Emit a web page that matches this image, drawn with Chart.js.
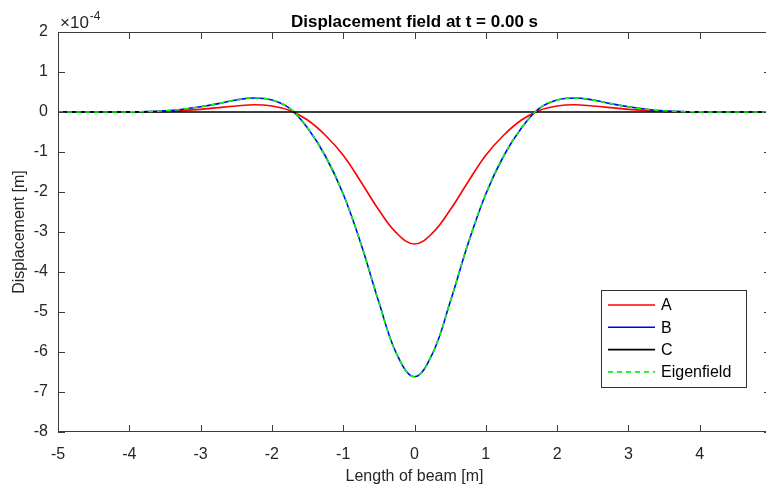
<!DOCTYPE html>
<html>
<head>
<meta charset="utf-8">
<script src="https://cdn.jsdelivr.net/npm/chart.js@4/dist/chart.umd.min.js"></script>
<style>
  html, body { margin: 0; padding: 0; background: #fff; overflow: hidden; }
  #wrap { width: 800px; height: 487px; }
</style>
</head>
<body>
<div id="wrap"><canvas id="c" width="800" height="487"></canvas></div>
<script>
// Beam positions [m]
const positions = [-5, -4.75, -4.5, -4.25, -4, -3.75, -3.5, -3.25, -3, -2.75, -2.5, -2.25, -2, -1.75, -1.5, -1.25, -1, -0.75, -0.5, -0.25,
  0, 0.25, 0.5, 0.75, 1, 1.25, 1.5, 1.75, 2, 2.25, 2.5, 2.75, 3, 3.25, 3.5, 3.75, 4, 4.25, 4.5, 4.75, 5];

// Displacements in units of 1e-4 m
const dispA = [0, 0, 0, 0, 0.001, 0.005, 0.015, 0.035, 0.065, 0.11, 0.15, 0.18, 0.15, 0.04, -0.2, -0.58, -1.08, -1.75, -2.45, -3.03,
  -3.3, -3.03, -2.45, -1.75, -1.08, -0.58, -0.2, 0.04, 0.15, 0.18, 0.15, 0.11, 0.065, 0.035, 0.015, 0.005, 0.001, 0, 0, 0, 0];
const dispB = [0, 0, 0, 0, 0.002, 0.01, 0.03, 0.07, 0.13, 0.21, 0.3, 0.35, 0.3, 0.09, -0.4, -1.1, -2.05, -3.3, -4.75, -6.05,
  -6.62, -6.05, -4.75, -3.3, -2.05, -1.1, -0.4, 0.09, 0.3, 0.35, 0.3, 0.21, 0.13, 0.07, 0.03, 0.01, 0.002, 0, 0, 0, 0];
const dispC = [0, 0, 0, 0, 0, 0, 0, 0, 0, 0, 0, 0, 0, 0, 0, 0, 0, 0, 0, 0,
  0, 0, 0, 0, 0, 0, 0, 0, 0, 0, 0, 0, 0, 0, 0, 0, 0, 0, 0, 0, 0];
const dispEigen = [0, 0, 0, 0, 0.002, 0.01, 0.03, 0.07, 0.13, 0.21, 0.3, 0.35, 0.3, 0.09, -0.4, -1.1, -2.05, -3.3, -4.75, -6.05,
  -6.62, -6.05, -4.75, -3.3, -2.05, -1.1, -0.4, 0.09, 0.3, 0.35, 0.3, 0.21, 0.13, 0.07, 0.03, 0.01, 0.002, 0, 0, 0, 0];

const xTicks = [-5, -4, -3, -2, -1, 0, 1, 2, 3, 4, 5];
const yTicks = [2, 1, 0, -1, -2, -3, -4, -5, -6, -7, -8];

const FONT = '"Liberation Sans", Arial, Helvetica, sans-serif';
const AXIS_COLOR = '#3c3c3c';
const TEXT_COLOR = '#262626';

const pts = arr => positions.map((x, i) => ({ x: x, y: arr[i] }));

// Inward tick marks, box outline, title, exponent label and legend
const matlabAxes = {
  id: 'matlabAxes',
  afterDatasetsDraw(chart) {
    const { ctx, chartArea: a, scales } = chart;
    const xs = scales.x, ys = scales.y;
    ctx.save();
    ctx.strokeStyle = AXIS_COLOR;
    ctx.lineWidth = 1;
    ctx.beginPath();
    ctx.rect(a.left + 0.5, a.top + 0.5, a.right - a.left - 1, a.bottom - a.top - 1);
    ctx.stroke();
    const tl = 7;
    ctx.beginPath();
    xTicks.forEach(v => {
      const px = Math.round(xs.getPixelForValue(v)) + 0.5;
      ctx.moveTo(px, a.bottom); ctx.lineTo(px, a.bottom - tl);
      ctx.moveTo(px, a.top); ctx.lineTo(px, a.top + tl);
    });
    yTicks.forEach(v => {
      const py = Math.round(ys.getPixelForValue(v)) + 0.5;
      ctx.moveTo(a.left, py); ctx.lineTo(a.left + tl, py);
      ctx.moveTo(a.right, py); ctx.lineTo(a.right - tl, py);
    });
    ctx.stroke();

    // title
    ctx.fillStyle = '#000';
    ctx.font = 'bold 17px ' + FONT;
    ctx.textAlign = 'center';
    ctx.textBaseline = 'alphabetic';
    ctx.fillText('Displacement field at t = 0.00 s', (a.left + a.right) / 2, 27);

    // exponent
    ctx.fillStyle = TEXT_COLOR;
    ctx.textAlign = 'left';
    ctx.font = '17px ' + FONT;
    ctx.fillText('\u00d710', a.left + 2, 28);
    const w = ctx.measureText('\u00d710').width;
    ctx.font = '12px ' + FONT;
    ctx.fillText('-4', a.left + 3 + w, 20);

    // legend
    const lx = 601, ly = 290, lw = 145, lh = 97;
    ctx.fillStyle = '#fff';
    ctx.fillRect(lx, ly, lw, lh);
    ctx.strokeStyle = '#333';
    ctx.lineWidth = 1;
    ctx.strokeRect(lx + 0.5, ly + 0.5, lw, lh);
    ctx.font = '16px ' + FONT;
    ctx.textBaseline = 'middle';
    chart.data.datasets.forEach((ds, i) => {
      const y = ly + 15 + i * 22.3;
      ctx.strokeStyle = ds.borderColor;
      ctx.lineWidth = ds.borderWidth;
      ctx.setLineDash(ds.borderDash || []);
      ctx.beginPath();
      ctx.moveTo(608, y); ctx.lineTo(655, y);
      ctx.stroke();
      ctx.setLineDash([]);
      ctx.fillStyle = '#000';
      ctx.fillText(ds.label, 661, y + 1);
    });
    ctx.restore();
  }
};

new Chart(document.getElementById('c'), {
  type: 'line',
  data: {
    datasets: [
      { label: 'A', data: pts(dispA), borderColor: '#ff0000', borderWidth: 1.6, order: 4 },
      { label: 'B', data: pts(dispB), borderColor: '#0000ff', borderWidth: 1.6, order: 3 },
      { label: 'C', data: pts(dispC), borderColor: '#000000', borderWidth: 1.6, order: 2 },
      { label: 'Eigenfield', data: pts(dispEigen), borderColor: '#00ff00', borderWidth: 1.6, borderDash: [5, 4], order: 1 }
    ]
  },
  options: {
    responsive: false,
    animation: false,
    elements: {
      point: { radius: 0 },
      line: { tension: 0.4, fill: false }
    },
    layout: { padding: { top: 32, right: 29, left: 0, bottom: 0 } },
    plugins: { legend: { display: false }, title: { display: false }, tooltip: { enabled: false } },
    scales: {
      x: {
        type: 'linear', min: -5, max: 5,
        afterFit(s) { s.height = 55; },
        afterBuildTicks(s) { s.ticks = xTicks.map(v => ({ value: v })); },
        grid: { display: false, drawTicks: false },
        border: { display: false },
        ticks: { color: TEXT_COLOR, font: { family: FONT, size: 16 }, padding: 13, maxRotation: 0, autoSkip: false },
        title: { display: true, text: 'Length of beam [m]', color: TEXT_COLOR, font: { family: FONT, size: 16 }, padding: { top: 4, bottom: 1 } }
      },
      y: {
        type: 'linear', min: -8, max: 2,
        afterFit(s) { s.width = 58; },
        afterBuildTicks(s) { s.ticks = yTicks.map(v => ({ value: v })); },
        grid: { display: false, drawTicks: false },
        border: { display: false },
        ticks: { color: TEXT_COLOR, font: { family: FONT, size: 16 }, padding: 10, autoSkip: false },
        title: { display: true, text: 'Displacement [m]', color: TEXT_COLOR, font: { family: FONT, size: 16 }, padding: { top: 10, bottom: 4 } }
      }
    }
  },
  plugins: [matlabAxes]
});
</script>
</body>
</html>
